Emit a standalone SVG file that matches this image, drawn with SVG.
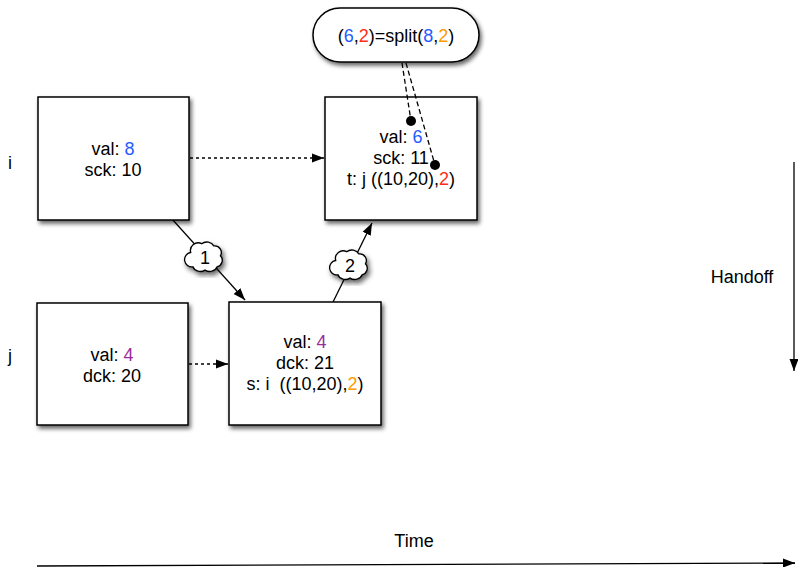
<svg xmlns="http://www.w3.org/2000/svg" width="798" height="567" viewBox="0 0 798 567">
<defs>
<style>
text{font-family:"Liberation Sans",Arial,sans-serif;font-size:18px;fill:#000}
.c{text-anchor:middle}
.box{fill:#fff;stroke:#000;stroke-width:1.5;filter:url(#sh)}
.ln{fill:none;stroke:#000;stroke-width:1.3}
.dot{stroke-dasharray:3 3}
.dash{stroke-dasharray:5 3}
.b{fill:#1f5bff}.r{fill:#ff2d17}.p{fill:#992d99}.o{fill:#ff9a00}
</style>
<filter id="sh" x="-20%" y="-20%" width="140%" height="140%">
<feDropShadow dx="2" dy="3" stdDeviation="2.2" flood-color="#000" flood-opacity="0.6"/>
</filter>
<marker id="ah" viewBox="0 0 12 10" refX="12" refY="5" markerWidth="12" markerHeight="10" markerUnits="userSpaceOnUse" orient="auto">
<path d="M0,0.5 L12,5 L0,9.5 z" fill="#000"/>
</marker>
<path id="cloud" d="M-13,-5 a7,7 0 0 1 10,-8 a7,6 0 0 1 11,2 a6,6 0 0 1 6,9 a6,6 0 0 1 -3,10 a7,6 0 0 1 -11,3 a7,6 0 0 1 -11,-3 a6,6 0 0 1 -2,-13 z" fill="#fff" stroke="#000" stroke-width="1.2" filter="url(#sh)"/>
</defs>

<text x="10" y="169" class="c">i</text>
<text x="10" y="362" class="c">j</text>

<g id="connectors">
<line class="ln dot" x1="190" y1="158" x2="324" y2="158" marker-end="url(#ah)"/>
<line class="ln dot" x1="189" y1="364" x2="228" y2="364" marker-end="url(#ah)"/>
<line class="ln" x1="172" y1="219" x2="245" y2="300" marker-end="url(#ah)"/>
<line class="ln" x1="333" y1="302" x2="372" y2="223" marker-end="url(#ah)"/>
<line class="ln" x1="37" y1="566" x2="795" y2="563" marker-end="url(#ah)"/>
<line class="ln" x1="794" y1="162" x2="794" y2="371" marker-end="url(#ah)"/>
</g>

<g id="nodeA">
<rect class="box" x="38" y="97" width="151" height="123"/>
<text x="113" y="155" class="c">val: <tspan class="b">8</tspan></text>
<text x="113" y="176" class="c">sck: 10</text>
</g>

<g id="nodeB">
<rect class="box" x="325" y="97" width="152" height="123"/>
<text x="401" y="143" class="c">val: <tspan class="b">6</tspan></text>
<text x="401" y="164" class="c">sck: 11</text>
<text x="401" y="185" class="c">t: j ((10,20),<tspan class="r">2</tspan>)</text>
</g>

<g id="nodeC">
<rect class="box" x="37" y="303" width="151" height="122"/>
<text x="112" y="361" class="c">val: <tspan class="p">4</tspan></text>
<text x="112" y="382" class="c">dck: 20</text>
</g>

<g id="nodeD">
<rect class="box" x="229" y="302" width="152" height="123"/>
<text x="305" y="348" class="c">val: <tspan class="p">4</tspan></text>
<text x="305" y="369" class="c">dck: 21</text>
<text x="305" y="390" class="c">s: i &#160;((10,20),<tspan class="o">2</tspan>)</text>
</g>

<g id="split">
<rect class="box" x="313" y="8" width="166" height="54" rx="27" ry="27"/>
<text x="396" y="42" class="c">(<tspan class="b">6</tspan>,<tspan class="r">2</tspan>)=split(<tspan class="b">8</tspan>,<tspan class="o">2</tspan>)</text>
</g>

<g id="splitLinks">
<line class="ln dash" x1="402" y1="63" x2="411" y2="121"/>
<line class="ln dash" x1="406" y1="63" x2="435" y2="165"/>
<circle cx="411" cy="121" r="5" fill="#000"/>
<circle cx="435" cy="165" r="5" fill="#000"/>
</g>

<g id="cloud1">
<use href="#cloud" transform="translate(205,258) scale(1.1)"/>
<text x="205" y="264" class="c">1</text>
</g>
<g id="cloud2">
<use href="#cloud" transform="translate(350,266) scale(1.1)"/>
<text x="350" y="272" class="c">2</text>
</g>

<text x="742" y="283" class="c">Handoff</text>
<text x="414" y="547" class="c">Time</text>
</svg>
